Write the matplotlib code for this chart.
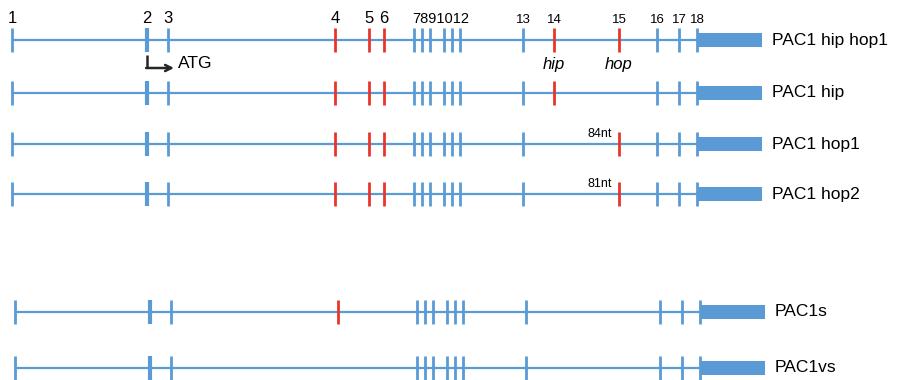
import matplotlib.pyplot as plt

plt.rcParams["font.family"] = ["Liberation Sans", "DejaVu Sans"]

# exon positions along the gene (pixel-like units of the drawing)
exon_ids = list(range(1, 19))
exon_pos = [12, 147, 168, 335, 369, 384, 414, 422, 430, 444, 452, 460,
            523, 554, 619, 657, 679, 697]
utr_end = 762
red_exons = [4, 5, 6, 14, 15]

# transcript variants and the exons they skip
variants = ["PAC1 hip hop1", "PAC1 hip", "PAC1 hop1", "PAC1 hop2", "PAC1s", "PAC1vs"]
skipped = [[], [15], [14], [14], [5, 6, 14, 15], [4, 5, 6, 14, 15]]

# exon number labels shown above first row
num_labels = ["1", "2", "3", "4", "5", "6", "13", "14", "15", "16", "17", "18"]
num_exons = [1, 2, 3, 4, 5, 6, 13, 14, 15, 16, 17, 18]
big_nums = ["1", "2", "3", "4", "5", "6"]
cluster_label = "7891012"

insert_notes = {"PAC1 hop1": "84nt", "PAC1 hop2": "81nt"}

row_y = [40, 93, 144, 194, 312, 368]
row_shift = [0, 0, 0, 0, 3, 3]

blue = "#5b9bd5"
red = "#e8352b"
dark = "#262626"

fig = plt.figure(figsize=(8.98, 3.8), dpi=100)
ax = fig.add_axes([0, 0, 1, 1])
ax.set_xlim(0, 898)
ax.set_ylim(380, 0)
ax.axis("off")

pos = dict(zip(exon_ids, exon_pos))
half = 12

for name, skip, y, dx in zip(variants, skipped, row_y, row_shift):
    ax.plot([pos[1] + dx, pos[18] + dx], [y, y], color=blue, lw=1.6,
            solid_capstyle="butt", zorder=1)
    for e in exon_ids:
        if e in skip:
            continue
        x = pos[e] + dx
        c = red if e in red_exons else blue
        lw = 3.0 if e == 2 else 2.0
        ax.plot([x, x], [y - half, y + half], color=c, lw=lw,
                solid_capstyle="butt", zorder=2)
    ax.fill_between([pos[18] + dx, utr_end + dx], y - 7, y + 7, color=blue,
                    lw=0, zorder=2)
    ax.text(utr_end + dx + 10, y, name, fontsize=12.5, va="center", ha="left")
    if name in insert_notes:
        ax.text(pos[15] + dx - 7, y - 4, insert_notes[name], fontsize=9,
                ha="right", va="bottom")

for lab, e in zip(num_labels, num_exons):
    fs = 12 if lab in big_nums else 9.5
    ax.text(pos[e], 23, lab, fontsize=fs, ha="center", va="baseline")
ax.text((pos[7] + pos[12]) / 2 + 4, 23, cluster_label, fontsize=10.5,
        ha="center", va="baseline")

# start codon arrow
ax.plot([147, 147], [55, 68], color=dark, lw=1.8, solid_capstyle="butt")
ax.annotate("", xy=(174, 68), xytext=(146.1, 68),
            arrowprops=dict(arrowstyle="->", color=dark, lw=1.8,
                            mutation_scale=11, shrinkA=0, shrinkB=0))
ax.text(178, 64, "ATG", fontsize=12.5, va="center", ha="left")

ax.text(pos[14], 64, "hip", fontsize=12, style="italic", ha="center", va="center")
ax.text(pos[15], 64, "hop", fontsize=12, style="italic", ha="center", va="center")

fig.savefig("out.png", dpi=100)
